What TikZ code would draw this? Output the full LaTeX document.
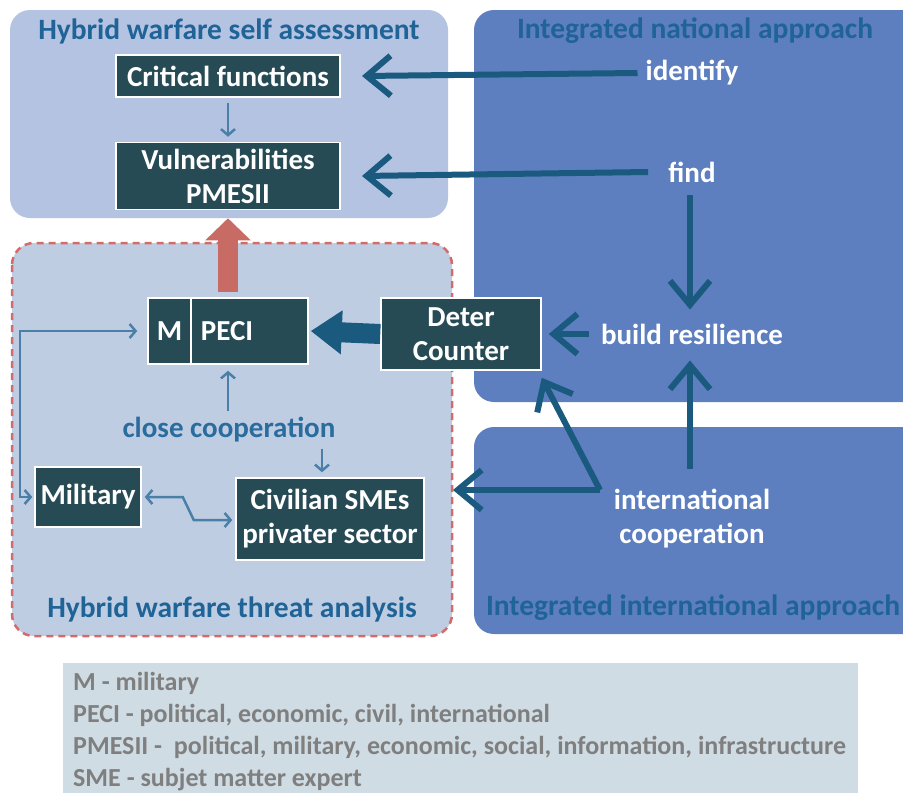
\documentclass[tikz,border=0pt]{standalone}
\usepackage{fontspec}
\setmainfont{Carlito}
\usetikzlibrary{arrows.meta}

\definecolor{selfbg}{HTML}{B4C3E2}
\definecolor{threatbg}{HTML}{BFCDE3}
\definecolor{approachbg}{HTML}{5D7FC0}
\definecolor{titleblue}{HTML}{1F6397}
\definecolor{closeblue}{HTML}{2A6C9E}
\definecolor{nodeteal}{HTML}{264B55}
\definecolor{arrowblue}{HTML}{1A5A7E}
\definecolor{thinblue}{HTML}{4A80A8}
\definecolor{upred}{HTML}{C96B65}
\definecolor{dashred}{HTML}{D36B6B}
\definecolor{legendbg}{HTML}{D0DCE4}
\definecolor{legendtext}{HTML}{7F7F7F}

\newcommand{\mainfnt}{\fontsize{29}{34}\selectfont\bfseries}
\newcommand{\titlefnt}{\fontsize{29.5}{32}\selectfont\bfseries}
\newcommand{\legendfnt}{\fontsize{26}{32}\selectfont\bfseries}

\tikzset{
  darkbox/.style={draw=white, line width=1.5pt, fill=nodeteal, text=white,
    font=\mainfnt, align=center, inner sep=0pt},
  bluetext/.style={text=white, font=\mainfnt, align=center, inner sep=0pt},
  boxtitle/.style={text=titleblue, font=\titlefnt, inner sep=0pt},
  bigarrow/.style={draw=arrowblue, line width=6pt,
    -{Straight Barb[length=24pt, width=40pt, line width=6pt]}},
  thinarrow/.style={draw=thinblue, line width=2.5pt,
    -{Straight Barb[length=6pt, width=14pt, line width=2.5pt]}},
  thinboth/.style={draw=thinblue, line width=2.5pt,
    {Straight Barb[length=6pt, width=14pt, line width=2.5pt]}-{Straight Barb[length=6pt, width=14pt, line width=2.5pt]}},
}

\begin{document}
\begin{tikzpicture}[x=1pt, y=-1pt]
    \useasboundingbox (0,0) rectangle (903,793);
    \clip (0,0) rectangle (903,793);

    % background panels
    \fill[selfbg, rounded corners=20pt] (10,10) rectangle (448,218);
    \fill[approachbg, rounded corners=20pt] (474,10) rectangle (925,402);
    \fill[approachbg, rounded corners=20pt] (474,427) rectangle (925,634);
    \filldraw[fill=threatbg, draw=dashred, line width=2.5pt, dash pattern=on 7pt off 5pt,
      rounded corners=22pt] (12,243) rectangle (452,636);
    \fill[legendbg] (63,663) rectangle (858,800);

    % panel titles
    \node[boxtitle] (selftitle) at (229,31) {Hybrid warfare self assessment};
    \node[boxtitle] (nattitle) at (695,31) {Integrated national approach};
    \node[boxtitle] (threattitle) at (232,609) {Hybrid warfare threat analysis};
    \node[boxtitle] (inttitle) at (693,608) {Integrated international approach};

    % boxes
    \node[darkbox, minimum width=224pt, minimum height=42pt] (crit) at (228,76) {Critical functions};
    \node[darkbox, minimum width=224pt, minimum height=67pt] (vul) at (228,176) {Vulnerabilities\\PMESII};
    \node[darkbox, minimum width=160pt, minimum height=66pt] (mp) at (228,331) {};
    \node[darkbox, minimum width=43pt, minimum height=66pt, anchor=west] (m) at (mp.west) {M};
    \node[text=white, font=\mainfnt, inner sep=0pt, anchor=west] (peci) at ([xshift=9pt]m.east) {PECI};
    \node[darkbox, minimum width=160pt, minimum height=72pt] (deter) at (461,334) {Deter\\Counter};
    \node[darkbox, minimum width=106pt, minimum height=60pt] (mil) at (88,497) {Military};
    \node[darkbox, minimum width=188pt, minimum height=82pt] (civ) at (330,519) {Civilian SMEs\\privater sector};

    % free labels
    \node[bluetext] (identify) at (692,73) {identify};
    \node[bluetext] (find) at (692,172) {find};
    \node[bluetext] (build) at (692,334) {build resilience};
    \node[bluetext] (intcoop) at (692,519) {international\\cooperation};
    \node[text=closeblue, font=\mainfnt, inner sep=0pt] (close) at (229,430) {close cooperation};

    % national / international arrows
    \draw[bigarrow] (identify.west) ++(-8,0) coordinate (idstart) -- (crit.east -| 362,0);
    \draw[bigarrow] (find.west) ++(-20,0) coordinate (fdstart) -- (vul.east -| 362,0);
    \draw[bigarrow, shorten <=12pt, shorten >=14pt] (find.south -| 690,0) -- (build.north -| 690,0);
    \draw[bigarrow, shorten <=20pt, shorten >=16pt] (intcoop.north -| 690,0) -- (build.south -| 690,0);
    \draw[bigarrow, shorten <=12pt, shorten >=7pt] (build.west) -- (deter.east);
    \coordinate (corner) at (600,490);
    \draw[bigarrow, line join=miter] (corner) -- (453,490);
    \draw[bigarrow] (corner) -- ([yshift=-7pt]deter.south east);

    % wide arrows
    \draw[arrowblue, line width=20pt, -{Triangle[length=31pt, width=42pt]}] (deter.west) -- ([xshift=2pt]mp.east);
    \draw[upred, line width=20pt, -{Triangle[length=22pt, width=44pt]}, shorten <=5pt, shorten >=8pt] (mp.north) -- (vul.south);

    % thin arrows
    \draw[thinarrow, shorten <=5pt, shorten >=5pt] (crit.south) -- (vul.north);
    \draw[thinarrow, shorten <=6pt, shorten >=6pt] (close.north -| mp.south) -- (mp.south);
    \draw[thinarrow, shorten <=6pt, shorten >=5pt] (close.south -| 322,0) -- (civ.north -| 322,0);
    \draw[thinboth, shorten <=2pt, shorten >=10pt] (mil.west) -| (20,400) |- (m.west);
    \draw[thinboth, shorten <=3pt, shorten >=3pt]
      (mil.east) -- ++(41,0) -- ++(11,23) -- (civ.west |- 0,520);

    % legend
    \node[text=legendtext, font=\legendfnt, align=left, anchor=north west, inner sep=0pt] (legend) at (73,672)
      {M - military\\PECI - political, economic, civil, international\\PMESII -\ \ political, military, economic, social, information, infrastructure\\SME - subjet matter expert};
\end{tikzpicture}
\end{document}
